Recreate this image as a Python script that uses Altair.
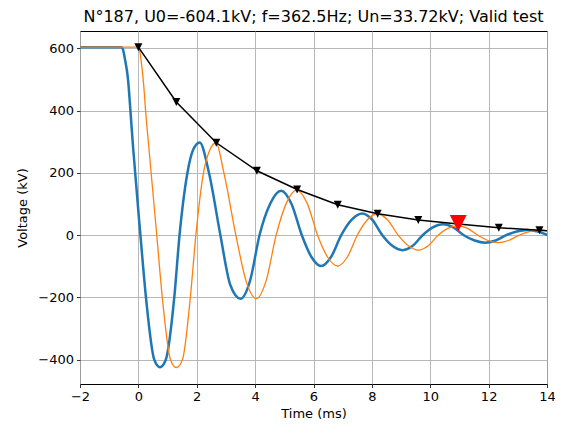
import altair as alt
import pandas as pd

# ---- data ----
blue_t = [-2.00, -0.58, -0.52, -0.47, -0.35, -0.27, -0.18, 0.07, 0.26, 0.545, 0.74, 0.94,
          1.23, 1.41, 1.68, 1.88, 2.10, 2.42, 2.81, 3.15, 3.50, 3.83, 4.15, 4.52, 4.89,
          5.24, 5.60, 5.93, 6.26, 6.60, 6.95, 7.31, 7.67, 8.01, 8.36, 8.70, 9.05, 9.40,
          9.74, 10.09, 10.43, 10.79, 11.15, 11.52, 11.88, 12.24, 12.60, 12.96, 13.32,
          13.69, 14.05]
blue_v = [604, 604, 594, 571, 496, 397, 281, 0, -200, -400, -424, -400,
          -200, 0, 200, 275, 298, 200, 0, -160, -204, -145, 0, 102, 143,
          102, 0, -70, -99, -70, 0, 50, 70, 50, 0, -34, -48, -34,
          0, 25, 35, 25, 0, -17, -24, -17, 0, 12, 17,
          12, -1]

orange_t = [-2.00, 0.00, 0.04, 0.08, 0.18, 0.25, 0.36, 0.63, 0.82, 1.10, 1.30, 1.51,
            1.78, 1.97, 2.23, 2.44, 2.66, 2.93, 3.34, 3.70, 4.04, 4.38, 4.72, 5.07,
            5.42, 5.78, 6.14, 6.48, 6.83, 7.16, 7.50, 7.84, 8.18, 8.54, 8.90, 9.25,
            9.60, 9.93, 10.27, 10.60, 10.93, 11.28, 11.63, 11.98, 12.32, 12.68, 13.05,
            13.42, 13.78, 14.05]
orange_v = [604, 604, 596, 571, 485, 397, 281, 0, -200, -400, -425, -400,
            -200, 0, 200, 272, 297, 200, 0, -150, -204, -145, 0, 103,
            145, 103, 0, -70, -99, -70, 0, 49, 69, 49, 0, -34,
            -48, -34, 0, 22, 31, 22, 0, -17, -24, -17, 0,
            12, 17, 13]

env_t = [0.00, 1.30, 2.67, 4.06, 5.44, 6.83, 8.20, 9.59, 10.96, 12.35, 13.74]
env_v = [604, 428, 297, 207, 147, 98, 69, 49, 36, 24, 16]
env_end_t = [14.0]
env_end_v = [14]

red_t = [10.96]
red_v = [38]

title_text = "N°187, U0=-604.1kV; f=362.5Hz; Un=33.72kV; Valid test"
x_ticks = [-2, 0, 2, 4, 6, 8, 10, 12, 14]
y_ticks = [-400, -200, 0, 200, 400, 600]

blue_df = pd.DataFrame({"t": blue_t, "v": blue_v})
orange_df = pd.DataFrame({"t": orange_t, "v": orange_v})
env_df = pd.DataFrame({"t": env_t, "v": env_v})
env_line_df = pd.DataFrame({"t": env_t + env_end_t, "v": env_v + env_end_v})
red_df = pd.DataFrame({"t": red_t, "v": red_v})

xs = alt.Scale(domain=[-2, 14], nice=False, zero=False)
ys = alt.Scale(domain=[-478, 656], nice=False, zero=False)

X = alt.X("t:Q", scale=xs, axis=alt.Axis(values=x_ticks, title="Time (ms)", titlePadding=4,
                                         labelFlush=False))
Y = alt.Y("v:Q", scale=ys, axis=alt.Axis(values=y_ticks, title="Voltage (kV)", titlePadding=8,
                                         labelFlush=False))

tri = "M-1,-1L1,-1L0,1Z"

blue = alt.Chart(blue_df).mark_line(color="#1f77b4", strokeWidth=2.5, interpolate="monotone",
                                    clip=True).encode(x=X, y=Y)
orange = alt.Chart(orange_df).mark_line(color="#ff7f0e", strokeWidth=1.3, interpolate="monotone",
                                        clip=True).encode(x=X, y=Y)
env_line = alt.Chart(env_line_df).mark_line(color="black", strokeWidth=1.5, clip=True).encode(x=X, y=Y)
env_pts = alt.Chart(env_df).mark_point(shape=tri, filled=True, size=64, color="black",
                                       opacity=1).encode(x=X, y=Y)
red = alt.Chart(red_df).mark_point(shape=tri, filled=True, size=280, color="red",
                                   opacity=1).encode(x=X, y=Y)

chart = alt.layer(blue, orange, env_line, env_pts, red).properties(
    width=467, height=353,
    background="white",
    autosize=alt.AutoSizeParams(type="none"),
    padding={"left": 72, "top": 23, "right": 8, "bottom": 40},
    title=alt.TitleParams(title_text, fontSize=16, font="DejaVu Sans", fontWeight="normal",
                          color="black", offset=6, anchor="middle"),
).configure_view(stroke="black", strokeWidth=1).configure_axis(
    grid=True, gridColor="#b0b0b0", gridWidth=0.9, domain=False,
    tickColor="black", tickSize=3.5, tickWidth=0.8,
    labelFont="DejaVu Sans", labelFontSize=13, labelColor="black", labelPadding=3,
    titleFont="DejaVu Sans", titleFontSize=13, titleFontWeight="normal", titleColor="black",
)

chart.save("out.html", embed_options={"renderer": "svg", "actions": False})
